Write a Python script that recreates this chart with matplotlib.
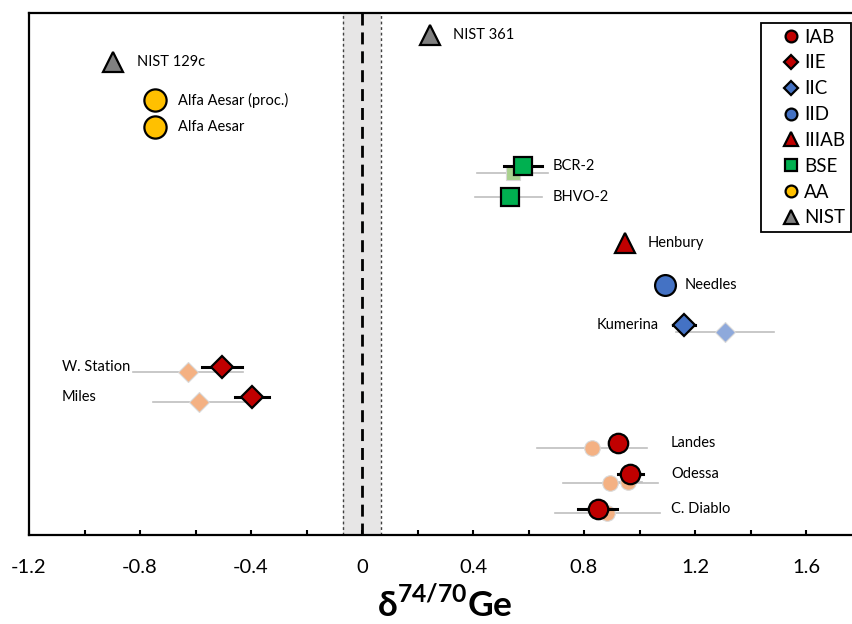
import matplotlib
matplotlib.use("Agg")
import matplotlib.pyplot as plt
from matplotlib.lines import Line2D

# ── DATA ──────────────────────────────────────────────────────────────────────

# this study (dark markers); row = vertical slot on the chart
samples = ["NIST 361", "NIST 129c", "Alfa Aesar (proc.)", "Alfa Aesar",
           "BCR-2", "BHVO-2", "Henbury", "Needles", "Kumerina",
           "W. Station", "Miles", "Landes", "Odessa", "C. Diablo"]
groups  = ["NIST", "NIST", "AA", "AA", "BSE", "BSE", "IIIAB", "IID", "IIC",
           "IIE", "IIE", "IAB", "IAB", "IAB"]
delta   = [0.245, -0.897, -0.746, -0.746, 0.580, 0.533, 0.948, 1.092, 1.160,
           -0.505, -0.396, 0.922, 0.966, 0.850]
err     = [0.0, 0.0, 0.0, 0.0, 0.07, 0.0, 0.0, 0.0, 0.04,
           0.072, 0.06, 0.03, 0.045, 0.07]
row     = [50.0, 47.3, 43.5, 40.8, 36.9, 33.8, 29.2, 25.0, 21.0,
           16.8, 13.8, 9.2, 6.1, 2.6]

# literature values (faded markers)
lit_group = ["BSE", "BSE", "IIC", "IIE", "IIE", "IAB", "IAB", "IAB", "IAB"]
lit_delta = [0.544, 0.528, 1.308, -0.627, -0.587, 0.830, 0.895, 0.958, 0.884]
lit_err   = [0.128, 0.12, 0.175, 0.198, 0.165, 0.198, 0.17, 0.05, 0.19]
lit_row   = [36.2, 33.8, 20.3, 16.3, 13.3, 8.7, 5.2, 5.3, 2.2]

legend_groups = ["IAB", "IIE", "IIC", "IID", "IIIAB", "BSE", "AA", "NIST"]

# ── STYLE ─────────────────────────────────────────────────────────────────────

plt.rcParams["font.family"] = ["Lato", "DejaVu Sans"]
plt.rcParams["mathtext.fontset"] = "custom"
plt.rcParams["mathtext.rm"] = "Lato"
plt.rcParams["mathtext.bf"] = "Lato:bold"

STYLE = {
    "IAB":   dict(marker="o", color="#C00000", ms=14, light="#F4B183"),
    "IIE":   dict(marker="D", color="#C00000", ms=11, light="#F4B183"),
    "IIC":   dict(marker="D", color="#4472C4", ms=11, light="#8EA9DB"),
    "IID":   dict(marker="o", color="#4472C4", ms=15, light="#8EA9DB"),
    "IIIAB": dict(marker="^", color="#C00000", ms=14, light="#F4B183"),
    "BSE":   dict(marker="s", color="#00B050", ms=13, light="#A9D18E"),
    "AA":    dict(marker="o", color="#FFC000", ms=16, light="#FFE699"),
    "NIST":  dict(marker="^", color="#808080", ms=15, light="#D9D9D9"),
}
LIGHT_SCALE = {"o": 0.8, "D": 0.95, "^": 0.8, "s": 0.8}
LEGEND_MS = {"o": 8.5, "D": 6.8, "^": 9.5, "s": 8.5}

# label placement: (offset in points from marker, horizontal alignment)
LABEL_POS = {
    "NIST 361": (16.6, "left"), "NIST 129c": (17, "left"),
    "Alfa Aesar (proc.)": (16.6, "left"), "Alfa Aesar": (16.6, "left"),
    "BCR-2": (21.6, "left"), "BHVO-2": (31, "left"),
    "Henbury": (16, "left"), "Needles": (14.4, "left"),
    "Kumerina": (-18, "right"), "W. Station": (-115, "left"),
    "Miles": (-137, "left"), "Landes": (38, "left"),
    "Odessa": (29.5, "left"), "C. Diablo": (52.6, "left"),
}

# ── PLOT ──────────────────────────────────────────────────────────────────────

fig = plt.figure(figsize=(8.52, 6.24), dpi=100)
ax = fig.add_axes([29 / 852, 89 / 624, 832.5 / 852, 522 / 624])

# reference band around zero
ax.axvspan(-0.07, 0.07, color="#E7E6E6", zorder=0, lw=0)
for xb in (-0.07, 0.07):
    ax.axvline(xb, color="#404040", lw=1, dashes=(2, 2), zorder=1)
ax.axvline(0, color="black", lw=2, dashes=(4.3, 2.5), zorder=1)

# literature values
for g, x, e, y in zip(lit_group, lit_delta, lit_err, lit_row):
    st = STYLE[g]
    ax.plot([x - e, x + e], [y, y], color="#BFBFBF", lw=1.2, zorder=2)
    ax.plot(x, y, marker=st["marker"], color=st["light"],
            ms=st["ms"] * LIGHT_SCALE[st["marker"]], mec="#D9D9D9", mew=0.8,
            zorder=3)

# this study
for s, g, x, e, y in zip(samples, groups, delta, err, row):
    st = STYLE[g]
    if e > 0:
        ax.plot([x - e, x + e], [y, y], color="black", lw=2.2, zorder=4)
    ax.plot(x, y, marker=st["marker"], color=st["color"], ms=st["ms"],
            mec="black", mew=1.6, zorder=5)
    off, ha = LABEL_POS[s]
    ax.annotate(s, (x, y), xytext=(off, 0), textcoords="offset points",
                ha=ha, va="center", fontsize=10.5, zorder=6)

ax.set_xlim(-1.2, 1.8)
ax.set_ylim(0, 52.2)
ax.set_yticks([])
ax.set_xticks([-1.2, -0.8, -0.4, 0, 0.4, 0.8, 1.2, 1.6])
ax.set_xticklabels(["-1.2", "-0.8", "-0.4", "0", "0.4", "0.8", "1.2", "1.6"])
ax.set_xticks([-1.0, -0.6, -0.2, 0.2, 0.6, 1.0, 1.4], minor=True)
ax.tick_params(axis="x", which="both", direction="in", length=3.6, width=1.5,
               labelsize=14.5, pad=17.5)
for sp in ax.spines.values():
    sp.set_linewidth(1.6)

ax.set_xlabel("δ$^{\\mathbf{74/70}}$Ge", fontsize=25.5, fontweight="bold",
              labelpad=6)

# legend
handles = [Line2D([], [], ls="none", marker=STYLE[g]["marker"],
                  color=STYLE[g]["color"], ms=LEGEND_MS[STYLE[g]["marker"]],
                  mec="black", mew=1.6) for g in legend_groups]
leg = ax.legend(handles, legend_groups, loc="upper right",
                bbox_to_anchor=(851 / 852, 1 - 23 / 624),
                bbox_transform=fig.transFigure, fontsize=13.5,
                fancybox=False, edgecolor="black", framealpha=1,
                handlelength=2.6, handletextpad=-0.6, labelspacing=0.47,
                borderpad=0.3, borderaxespad=0)
leg.get_frame().set_linewidth(1.3)

fig.savefig("out.png", dpi=100)
